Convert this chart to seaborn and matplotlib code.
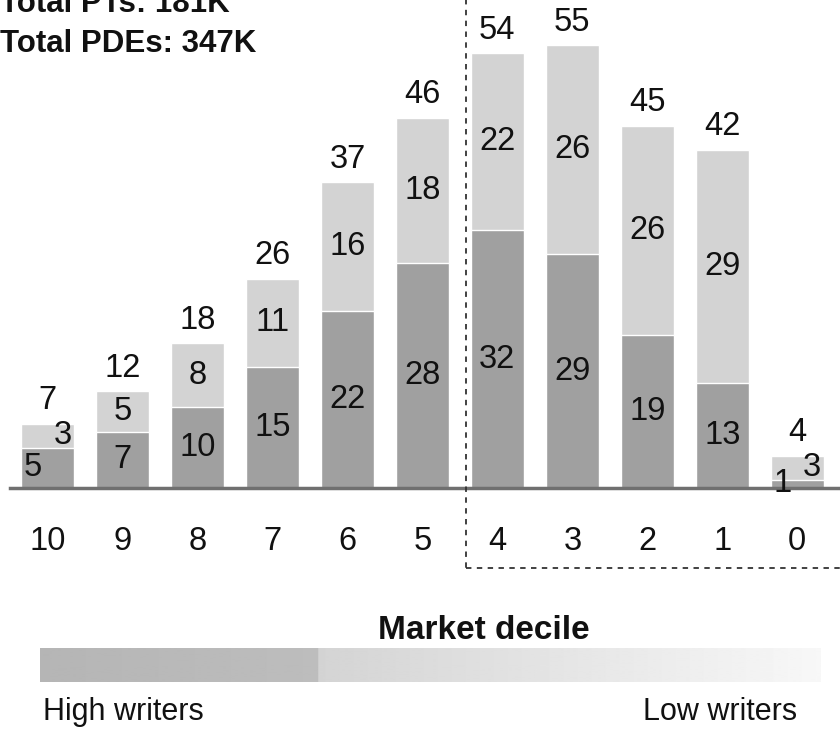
import numpy as np
import pandas as pd
import matplotlib
matplotlib.use("Agg")
import matplotlib.pyplot as plt
import seaborn as sns
from matplotlib.patches import Rectangle

# Market deciles, high writers on the left
deciles = ["10", "9", "8", "7", "6", "5", "4", "3", "2", "1", "0"]
pts = [5, 7, 10, 15, 22, 28, 32, 29, 19, 13, 1]        # lower (dark) segment
pdes_extra = [3, 5, 8, 11, 16, 18, 22, 26, 26, 29, 3]  # upper (light) segment
totals = [7, 12, 18, 26, 37, 46, 54, 55, 45, 42, 4]
title_lines = ["Total PTs: 181K", "Total PDEs: 347K"]

DARK = "#a0a0a0"
LIGHT = "#d3d3d3"
INK = "#111111"
FONT = "Liberation Sans"
NUM_SIZE = 23.5

sns.set_theme(style="white")
plt.rcParams["font.family"] = [FONT, "DejaVu Sans"]

df = pd.DataFrame({"decile": deciles, "dark": pts, "light": pdes_extra, "total": totals})
df["stack"] = df["dark"] + df["light"]

W, H = 840, 735
fig = plt.figure(figsize=(W / 100, H / 100), dpi=100)
ax = fig.add_axes([10 / W, (H - 488) / H, 830 / W, 488 / H])

sns.barplot(data=df, x="decile", y="stack", order=deciles, color=LIGHT,
            width=0.7, saturation=1, ax=ax)
sns.barplot(data=df, x="decile", y="dark", order=deciles, color=DARK,
            width=0.7, saturation=1, ax=ax)

ax.set_xlim(-0.5, 10.57)
ax.set_ylim(0, 60.6)
for side in ("left", "right", "top"):
    ax.spines[side].set_visible(False)
ax.spines["bottom"].set_color("#707070")
ax.spines["bottom"].set_linewidth(2.5)
ax.set_yticks([])
ax.set_ylabel("")
ax.tick_params(axis="x", length=0, pad=27, labelsize=NUM_SIZE, labelcolor=INK)
ax.set_xlabel("Market decile", fontsize=24, fontweight="bold", labelpad=42,
              color=INK)
ax.xaxis.label.set_x((484 - 10) / 830)

# segment and total labels
for i, row in df.iterrows():
    small = row["dark"] < 6 and row["light"] < 6
    dx_dark, dx_light = (-0.2, 0.2) if small else (0.0, 0.0)
    ax.text(i + dx_dark, row["dark"] / 2, str(row["dark"]), ha="center",
            va="center", fontsize=NUM_SIZE, color=INK)
    ax.text(i + dx_light, row["dark"] + row["light"] / 2, str(row["light"]),
            ha="center", va="center", fontsize=NUM_SIZE, color=INK)
    ax.annotate(str(row["total"]), (i, row["stack"]), xytext=(0, 16.5),
                textcoords="offset points", ha="center", va="center",
                fontsize=NUM_SIZE, color=INK)

# dashed frame around the lower deciles
fig.patches.append(Rectangle((466 / W, (H - 568) / H), 400 / W, 600 / H,
                             transform=fig.transFigure, fill=False,
                             edgecolor="#333333", linewidth=1.3,
                             linestyle=(0, (3, 3)), zorder=5))

# writer-volume wedge
gx = fig.add_axes([40 / W, (H - 682) / H, 780 / W, 34 / H])
n = 780
frac = np.linspace(0, 1, n)
split = 278 / 780
shade = np.where(frac < split, 0.71 + 0.03 * frac / split,
                 0.83 + 0.14 * (frac - split) / (1 - split))
gx.imshow(shade[np.newaxis, :], cmap="gray", vmin=0, vmax=1, aspect="auto")
gx.axis("off")

fig.text(43 / W, 1 - 712 / H, "High writers", ha="left", va="center",
         fontsize=22, color=INK)
fig.text(797 / W, 1 - 712 / H, "Low writers", ha="right", va="center",
         fontsize=22, color=INK)

fig.text(0, 1 - 12 / H, title_lines[0], ha="left", va="baseline",
         fontsize=22.5, fontweight="bold", color=INK)
fig.text(0, 1 - 52 / H, title_lines[1], ha="left", va="baseline",
         fontsize=22.5, fontweight="bold", color=INK)

fig.savefig("out.png", dpi=100)
